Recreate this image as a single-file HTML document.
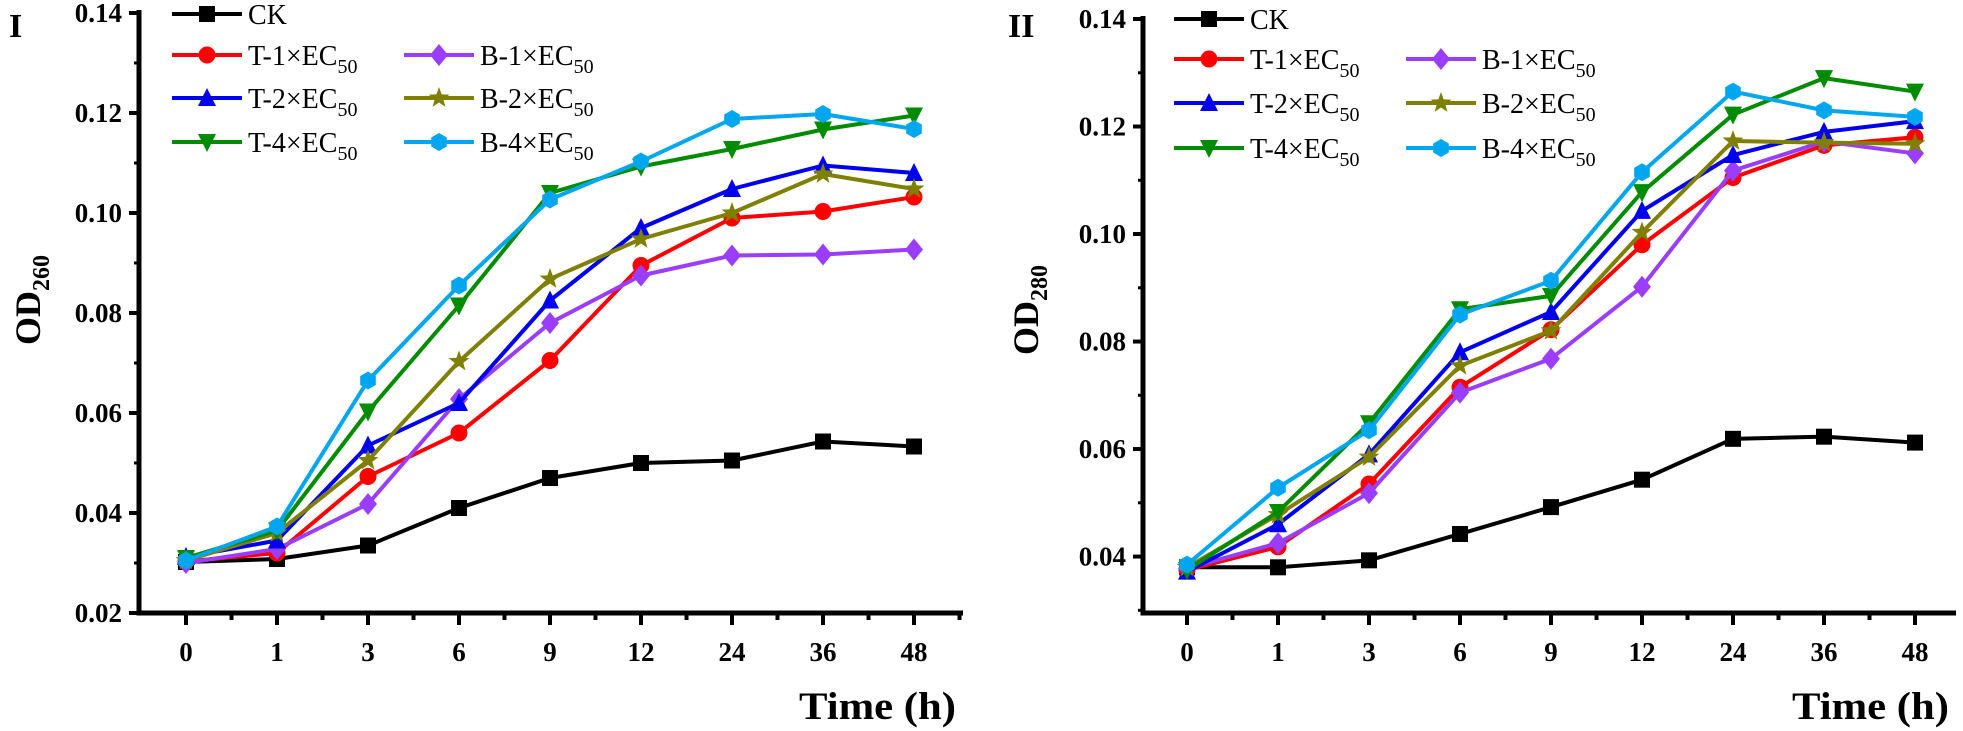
<!DOCTYPE html>
<html><head><meta charset="utf-8"><style>
html,body{margin:0;padding:0;background:#fff;}
svg{display:block;font-family:"Liberation Serif",serif;}
</style></head><body>
<svg id="chart" width="1963" height="731" viewBox="0 0 1963 731" xmlns="http://www.w3.org/2000/svg"></svg>
<script>
const categories = ["0","1","3","6","9","12","24","36","48"];
const seriesNames = ["CK","T-1","B-1","T-2","B-2","T-4","B-4"];
const seriesColors = ["#000000","#ff0000","#9b3dff","#0000ee","#808000","#008c00","#00a6f0"];
const seriesMarkers = ["square","circle","diamond","up","star","down","hex"];
// Panel I: OD260
const p1CK  = [0.0302,0.0308,0.0335,0.041,0.047,0.050,0.0505,0.0543,0.0533];
const p1T1  = [0.0303,0.032,0.0473,0.056,0.0705,0.0895,0.099,0.1003,0.1032];
const p1B1  = [0.030,0.0328,0.0418,0.0628,0.078,0.0875,0.0915,0.0917,0.0927];
const p1T2  = [0.0312,0.0345,0.0535,0.062,0.0825,0.097,0.1048,0.1095,0.108];
const p1B2  = [0.0305,0.036,0.0505,0.0703,0.0868,0.0948,0.1,0.1078,0.1048];
const p1T4  = [0.031,0.0365,0.0603,0.0815,0.104,0.1093,0.1128,0.1167,0.1195];
const p1B4  = [0.0305,0.0373,0.0665,0.0855,0.1027,0.1103,0.1188,0.1198,0.1168];
// Panel II: OD280
const p2CK  = [0.038,0.038,0.0393,0.0442,0.0492,0.0543,0.0619,0.0623,0.0612];
const p2T1  = [0.0375,0.0418,0.0535,0.0715,0.0822,0.098,0.1105,0.1165,0.118];
const p2B1  = [0.0378,0.0425,0.0518,0.0705,0.0768,0.0902,0.1118,0.1172,0.115];
const p2T2  = [0.0372,0.046,0.059,0.078,0.0855,0.1043,0.1147,0.119,0.121];
const p2B2  = [0.038,0.0478,0.0585,0.0755,0.082,0.1003,0.1173,0.117,0.1168];
const p2T4  = [0.0375,0.0483,0.0648,0.086,0.0885,0.1078,0.1222,0.129,0.1265];
const p2B4  = [0.0385,0.0528,0.0635,0.085,0.0913,0.1115,0.1265,0.123,0.1218];
const p1Ticks = [0.02,0.04,0.06,0.08,0.10,0.12,0.14];
const p2Ticks = [0.04,0.06,0.08,0.10,0.12,0.14];

const NS="http://www.w3.org/2000/svg";
const svg=document.getElementById('chart');
function mk(tag,attrs,parent){const e=document.createElementNS(NS,tag);for(const k in attrs)e.setAttribute(k,attrs[k]);(parent||svg).appendChild(e);return e;}

function marker(g,type,x,y,color){
  const s=8;let e;
  if(type==="square")e=mk('rect',{x:x-s,y:y-s,width:2*s,height:2*s,fill:color},g);
  else if(type==="circle")e=mk('circle',{cx:x,cy:y,r:s+0.5,fill:color},g);
  else if(type==="diamond")e=mk('polygon',{points:`${x},${y-s-3} ${x+s+1},${y} ${x},${y+s+3} ${x-s-1},${y}`,fill:color},g);
  else if(type==="up")e=mk('polygon',{points:`${x},${y-s-2} ${x+s+1},${y+s} ${x-s-1},${y+s}`,fill:color},g);
  else if(type==="down")e=mk('polygon',{points:`${x},${y+s+2} ${x+s+1},${y-s} ${x-s-1},${y-s}`,fill:color},g);
  else if(type==="hex"){let p=[];for(let i=0;i<6;i++){const a=Math.PI/3*i+Math.PI/6;p.push((x+9*Math.cos(a))+','+(y+9*Math.sin(a)));}e=mk('polygon',{points:p.join(' '),fill:color},g);}
  else {let p=[];for(let i=0;i<10;i++){const r=i%2?4.5:11;const a=-Math.PI/2+i*Math.PI/5;p.push((x+r*Math.cos(a))+','+(y+r*Math.sin(a)));}e=mk('polygon',{points:p.join(' '),fill:color},g);}
  
  
  return e;
}

function panel(o){
  const g=mk('g',{});
  
  
  const yS=v=>o.yTop+(o.yMax-v)/(o.yMax-o.yMin)*(o.yBot-o.yTop);
  const xS=i=>o.x0+i*o.step;
  const ya=mk('line',{x1:o.ax,y1:o.yTop-3,x2:o.ax,y2:o.yBot+2.5,stroke:'#000','stroke-width':5},g);
  
  const xa=mk('line',{x1:o.ax-2.5,y1:o.yBot,x2:o.axEnd,y2:o.yBot,stroke:'#000','stroke-width':5},g);
  
  o.ticks.forEach((t,i)=>{
    const y=yS(t);
    mk('line',{x1:o.ax-10,y1:y,x2:o.ax,y2:y,stroke:'#000','stroke-width':4},g);
    if(i<o.ticks.length-1){const ym=yS(t+0.01);mk('line',{x1:o.ax-5,y1:ym,x2:o.ax,y2:ym,stroke:'#000','stroke-width':3},g);}
    const tx=mk('text',{x:o.ax-17,y:y+9,'text-anchor':'end','font-size':27,'font-weight':'bold'},g);
    tx.textContent=t.toFixed(2);
    
  });
  if(o.extraMinorBottom){const ym=yS(o.ticks[0]-0.01);mk('line',{x1:o.ax-5,y1:ym,x2:o.ax,y2:ym,stroke:'#000','stroke-width':3},g);}
  for(let i=-0.5;i<=categories.length-0.5;i+=0.5){
    const x=xS(i);if(x<=o.ax+2||x>o.axEnd)continue;
    const major=Number.isInteger(i);
    mk('line',{x1:x,y1:o.yBot,x2:x,y2:o.yBot+(major?12:7),stroke:'#000','stroke-width':4},g);
  }
  categories.forEach((c,i)=>{
    const tx=mk('text',{x:xS(i),y:o.yBot+48,'text-anchor':'middle','font-size':27,'font-weight':'bold'},g);
    tx.textContent=c;
    
  });
  const xt=mk('text',{x:o.axEnd-164,y:719,'font-size':39,'font-weight':'bold',textLength:157,lengthAdjust:'spacingAndGlyphs'},g);
  xt.textContent='Time (h)';
  
  const yt=mk('text',{x:0,y:0,'text-anchor':'middle','font-size':36,'font-weight':'bold',transform:`translate(${o.ytX},${o.ytY}) rotate(-90)`},g);
  yt.innerHTML=`OD<tspan font-size="24" dy="9">${o.sub}</tspan>`;
  
  const pl=mk('text',{x:o.plX,y:37,'font-size':34,'font-weight':'bold'},g);
  pl.textContent=o.label;
  
  o.data.forEach((arr,si)=>{
    const sg=mk('g',{},g);
    
    
    const pts=arr.map((v,i)=>xS(i)+','+yS(v)).join(' ');
    const ln=mk('polyline',{points:pts,fill:'none',stroke:seriesColors[si],'stroke-width':4,'stroke-linejoin':'round'},sg);
    
    arr.forEach((v,i)=>marker(sg,seriesMarkers[si],xS(i),yS(v),seriesColors[si]));
  });
  const lg=mk('g',{},g);
  
  const pos=[[0,0],[0,1],[1,1],[0,2],[1,2],[0,3],[1,3]];
  seriesNames.forEach((n,si)=>{
    const col=pos[si][0],row=pos[si][1];
    const lx=col?o.lc2:o.lc1;const ly=o.lrows[row];
    const eg=mk('g',{},lg);
    
    mk('line',{x1:lx,y1:ly,x2:lx+70,y2:ly,stroke:seriesColors[si],'stroke-width':4},eg);
    marker(eg,seriesMarkers[si],lx+35,ly,seriesColors[si]);
    const t=mk('text',{x:lx+76,y:ly+10,'font-size':28},eg);
    if(n==='CK')t.textContent='CK';
    else t.innerHTML=`${n}×EC<tspan font-size="20" dy="8">50</tspan>`;
  });
}

panel({name:'panel-od260',label:'I',plX:9,sub:'260',ytX:40,ytY:300,
  ax:139,axEnd:963,x0:186,step:91,yTop:13,yBot:613,yMin:0.02,yMax:0.14,ticks:p1Ticks,
  data:[p1CK,p1T1,p1B1,p1T2,p1B2,p1T4,p1B4],lc1:172,lc2:404,lrows:[14,55,98,142]});
panel({name:'panel-od280',label:'II',plX:1008,sub:'280',ytX:1038,ytY:310,
  ax:1143,axEnd:1956,x0:1187,step:91,yTop:19,yBot:613,yMin:0.0295,yMax:0.14,ticks:p2Ticks,extraMinorBottom:true,
  data:[p2CK,p2T1,p2B1,p2T2,p2B2,p2T4,p2B4],lc1:1174,lc2:1406,lrows:[19,59,103,148]});
</script>
</body></html>
